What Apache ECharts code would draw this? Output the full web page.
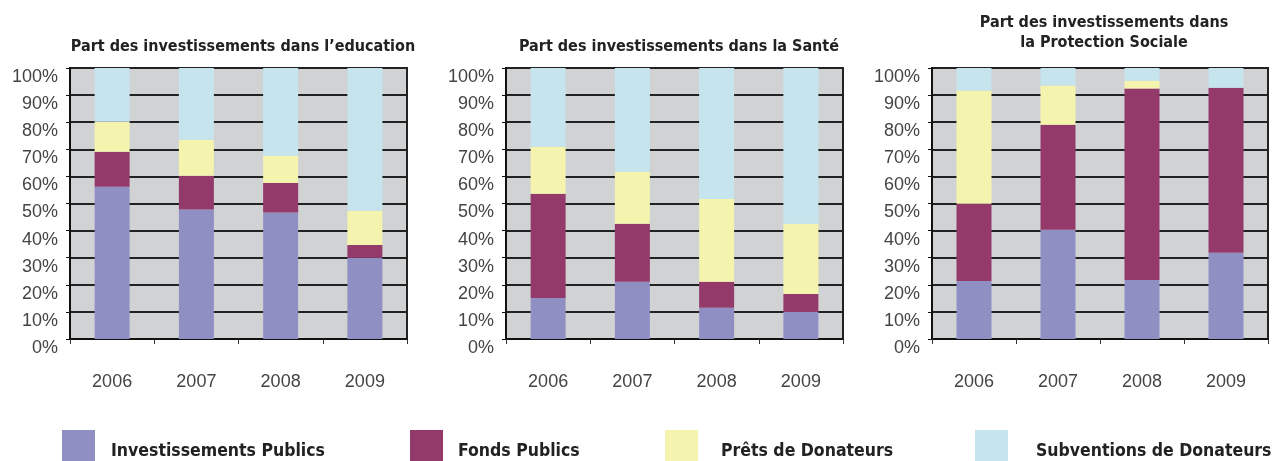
<!DOCTYPE html>
<html>
<head>
<meta charset="utf-8">
<script src="https://cdn.jsdelivr.net/npm/echarts@6/dist/echarts.min.js"></script>
<style>
  html, body { margin: 0; padding: 0; background: #fff; }
  #chart { width: 1274px; height: 461px; }
</style>
</head>
<body>
<div id="chart"></div>
<script>
// categories
var years = ['2006', '2007', '2008', '2009'];
var seriesNames = ['Investissements Publics', 'Fonds Publics', 'Prêts de Donateurs', 'Subventions de Donateurs'];
var colors = ['#8f8fc4', '#943a6b', '#f4f4ae', '#c5e4ee'];

// Part des investissements dans l'education (%)
var eduPublics = [56.2, 47.8, 46.7, 30.0];
var eduFonds = [12.9, 12.4, 10.9, 4.7];
var eduPrets = [11.1, 13.3, 10.0, 12.6];
var eduSubv = [19.8, 26.5, 32.4, 52.7];

// Part des investissements dans la Santé (%)
var santePublics = [15.1, 21.1, 11.5, 10.0];
var santeFonds = [38.5, 21.4, 9.6, 6.6];
var santePrets = [17.3, 19.2, 30.6, 25.9];
var santeSubv = [29.1, 38.3, 48.3, 57.5];

// Part des investissements dans la Protection Sociale (%)
var protPublics = [21.4, 40.3, 21.8, 31.8];
var protFonds = [28.5, 38.8, 70.6, 60.9];
var protPrets = [41.8, 14.4, 2.9, 0];
var protSubv = [8.3, 6.5, 4.7, 7.3];

var titles = [
    'Part des investissements dans l\u2019education',
    'Part des investissements dans la Santé',
    'Part des investissements dans\nla Protection Sociale'
];

var panels = [
    [eduPublics, eduFonds, eduPrets, eduSubv],
    [santePublics, santeFonds, santePrets, santeSubv],
    [protPublics, protFonds, protPrets, protSubv]
];

var titleFont = '"Liberation Sans Narrow", "DejaVu Sans Condensed", "Liberation Sans", sans-serif';
var axisFont = '"Liberation Sans", Arial, sans-serif';

var grids = [
    {left: 70, top: 68, width: 337, height: 271},
    {left: 506, top: 68, width: 337, height: 271},
    {left: 932, top: 68, width: 336, height: 271}
];

var chart = echarts.init(document.getElementById('chart'));

var titleStyle = {fontFamily: titleFont, fontWeight: 'bold', fontSize: 16, color: '#222', lineHeight: 20};

var option = {
    backgroundColor: '#fff',
    animation: false,
    color: colors,
    title: [
        {text: titles[0], left: 238, top: 32, textAlign: 'center', textStyle: titleStyle},
        {text: titles[1], left: 674, top: 32, textAlign: 'center', textStyle: titleStyle},
        {text: titles[2], left: 1099, top: 8, textAlign: 'center', textStyle: titleStyle}
    ],
    legend: [],
    grid: grids.map(function (g) {
        return {
            left: g.left, top: g.top, width: g.width, height: g.height,
            show: true,
            backgroundColor: '#d1d2d4',
            borderColor: '#222',
            borderWidth: 2
        };
    }),
    xAxis: grids.map(function (g, i) {
        return {
            type: 'category',
            gridIndex: i,
            data: years,
            axisLine: {show: true, lineStyle: {color: '#111', width: 2}},
            axisTick: {show: true, length: 5, lineStyle: {color: '#333'}},
            axisLabel: {margin: 34, fontSize: 18, color: '#444', fontFamily: axisFont}
        };
    }),
    yAxis: grids.map(function (g, i) {
        return {
            type: 'value',
            gridIndex: i,
            min: 0,
            max: 100,
            interval: 10,
            axisLine: {show: true, lineStyle: {color: '#111', width: 2}},
            axisTick: {show: true, length: 4, lineStyle: {color: '#111'}},
            splitLine: {show: true, lineStyle: {color: '#222', width: 2}},
            axisLabel: {
                formatter: '{value}%', fontSize: 18, color: '#444', fontFamily: axisFont,
                margin: 12, verticalAlign: 'top'
            }
        };
    }),
    series: []
};

// legend entries placed like the reference
var legendLeft = [62, 410, 665, 975];
var legendGap = [16, 15, 23, 28];
seriesNames.forEach(function (name, k) {
    option.legend.push({
        data: [name],
        left: legendLeft[k],
        top: 430,
        padding: 0,
        itemWidth: 33,
        itemHeight: 42,
        icon: 'rect',
        selectedMode: false,
        textStyle: {
            fontFamily: titleFont, fontWeight: 'bold', fontSize: 17.5, color: '#222',
            padding: [0, 0, 0, legendGap[k] - 5]
        }
    });
});

panels.forEach(function (vals, i) {
    vals.forEach(function (data, k) {
        option.series.push({
            name: seriesNames[k],
            type: 'bar',
            stack: 'p' + i,
            xAxisIndex: i,
            yAxisIndex: i,
            barWidth: 35,
            data: data,
            itemStyle: {color: colors[k]}
        });
    });
});

chart.setOption(option);
</script>
</body>
</html>
